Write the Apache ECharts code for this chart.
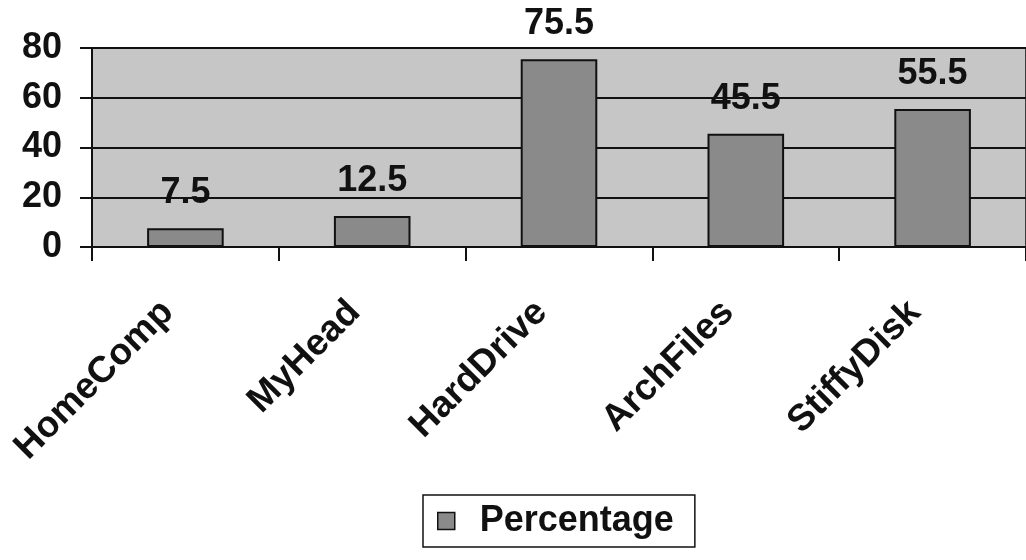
<!DOCTYPE html>
<html>
<head>
<meta charset="utf-8">
<script src="https://cdn.jsdelivr.net/npm/echarts@6/dist/echarts.min.js"></script>
<style>
html,body{margin:0;padding:0;background:#fff;}
#c{width:1026px;height:560px;}
</style>
</head>
<body>
<div id="c"></div>
<script>
const categories = ['HomeComp', 'MyHead', 'HardDrive', 'ArchFiles', 'StiffyDisk'];
const percentage = [7.5, 12.5, 75.5, 45.5, 55.5];
const yTicks = [0, 20, 40, 60, 80];

const FONT = '"Liberation Sans", Arial, sans-serif';
const chart = echarts.init(document.getElementById('c'));
chart.setOption({
  animation: false,
  backgroundColor: '#ffffff',
  grid: {
    left: 92, top: 48, width: 936, height: 199,
    show: true, backgroundColor: '#c6c6c6', borderColor: '#111', borderWidth: 1.5
  },
  legend: {
    data: ['Percentage'],
    left: 423, top: 495,
    orient: 'horizontal',
    icon: 'rect',
    itemWidth: 17, itemHeight: 17,
    borderColor: '#111', borderWidth: 1.5,
    padding: [8, 21, 8, 14],
    textStyle: { fontFamily: FONT, fontWeight: 'bold', fontSize: 36, color: '#111', padding: [0, 0, 0, 20] },
    itemStyle: { color: '#8a8a8a', borderColor: '#111', borderWidth: 1.5 }
  },
  xAxis: {
    type: 'category',
    data: categories,
    axisLine: { show: true, lineStyle: { color: '#111', width: 2 } },
    axisTick: { show: true, length: 14, lineStyle: { color: '#111', width: 2 } },
    axisLabel: {
      rotate: 45, interval: 0, margin: 42, padding: [0, 25, 0, 0],
      fontFamily: FONT, fontWeight: 'bold', fontSize: 37, color: '#111'
    },
    splitLine: { show: false }
  },
  yAxis: {
    type: 'value',
    min: yTicks[0], max: yTicks[yTicks.length - 1], interval: 20,
    axisLine: { show: true, lineStyle: { color: '#111', width: 2 } },
    axisTick: { show: true, length: 12, lineStyle: { color: '#111', width: 2 } },
    axisLabel: { margin: 30, fontFamily: FONT, fontWeight: 'bold', fontSize: 36, color: '#111' },
    splitLine: { show: true, lineStyle: { color: '#111', width: 2 } }
  },
  series: [{
    name: 'Percentage',
    type: 'bar',
    data: percentage,
    barCategoryGap: '59%',
    itemStyle: { color: '#8a8a8a', borderColor: '#111', borderWidth: 2 },
    label: {
      show: true, position: 'top', distance: 17,
      fontFamily: FONT, fontWeight: 'bold', fontSize: 36, color: '#111'
    }
  }]
});
</script>
</body>
</html>
